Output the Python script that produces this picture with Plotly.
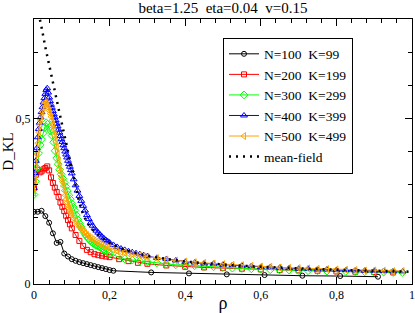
import plotly.graph_objects as go

# ---------------- data ----------------
rho_fine = [0, 0.0025, 0.005, 0.0075, 0.01, 0.0125, 0.015, 0.0175, 0.02, 0.0225,
            0.025, 0.0275, 0.03, 0.0325, 0.035, 0.0375, 0.04, 0.0425, 0.045, 0.0475,
            0.05, 0.0525, 0.055, 0.0575, 0.06, 0.0625, 0.065, 0.0675, 0.07, 0.0725,
            0.075, 0.0775, 0.08, 0.0825, 0.085, 0.0875, 0.09, 0.0925, 0.095, 0.0975,
            0.1, 0.105, 0.11, 0.115, 0.12, 0.125, 0.13, 0.135, 0.14, 0.145,
            0.15, 0.155, 0.16, 0.165, 0.17, 0.175, 0.18, 0.185, 0.19, 0.195,
            0.2, 0.21, 0.22, 0.23, 0.24, 0.25, 0.26, 0.27, 0.28, 0.29,
            0.3, 0.325, 0.35, 0.375, 0.4, 0.425, 0.45, 0.475, 0.5, 0.525,
            0.55, 0.575, 0.6, 0.625, 0.65, 0.675, 0.7, 0.725, 0.75, 0.775,
            0.8, 0.825, 0.85, 0.875, 0.9, 0.925, 0.95, 0.975]

dkl_N400 = [0.29, 0.335, 0.372, 0.41, 0.443, 0.468, 0.487, 0.503, 0.519, 0.534,
            0.548, 0.561, 0.574, 0.586, 0.591, 0.578, 0.563, 0.552, 0.541, 0.532,
            0.522, 0.512, 0.503, 0.494, 0.484, 0.476, 0.466, 0.457, 0.447, 0.437,
            0.429, 0.419, 0.41, 0.4, 0.391, 0.382, 0.372, 0.362, 0.354, 0.344,
            0.334, 0.316, 0.298, 0.282, 0.266, 0.251, 0.236, 0.222, 0.208, 0.196,
            0.185, 0.176, 0.168, 0.161, 0.155, 0.149, 0.143, 0.138, 0.133, 0.129,
            0.125, 0.118, 0.112, 0.107, 0.103, 0.099, 0.096, 0.093, 0.09, 0.087,
            0.084, 0.079, 0.075, 0.071, 0.067, 0.065, 0.062, 0.061, 0.058, 0.057,
            0.055, 0.054, 0.051, 0.051, 0.049, 0.048, 0.046, 0.046, 0.044, 0.044,
            0.042, 0.042, 0.041, 0.04, 0.04, 0.039, 0.038, 0.038]

dkl_N500 = [0.275, 0.315, 0.355, 0.392, 0.425, 0.458, 0.478, 0.495, 0.508, 0.52,
            0.532, 0.542, 0.549, 0.546, 0.54, 0.532, 0.524, 0.515, 0.505, 0.494,
            0.482, 0.466, 0.448, 0.43, 0.412, 0.393, 0.373, 0.355, 0.34, 0.324,
            0.31, 0.296, 0.282, 0.268, 0.256, 0.246, 0.237, 0.229, 0.222, 0.215,
            0.209, 0.198, 0.189, 0.18, 0.172, 0.165, 0.159, 0.153, 0.148, 0.143,
            0.139, 0.135, 0.131, 0.127, 0.124, 0.121, 0.118, 0.115, 0.113, 0.11,
            0.108, 0.104, 0.1, 0.097, 0.095, 0.092, 0.09, 0.088, 0.086, 0.084,
            0.082, 0.078, 0.074, 0.071, 0.068, 0.066, 0.064, 0.062, 0.06, 0.058,
            0.057, 0.055, 0.053, 0.052, 0.05, 0.049, 0.048, 0.047, 0.046, 0.045,
            0.044, 0.043, 0.042, 0.041, 0.041, 0.04, 0.039, 0.039]

rho_N300 = [0, 0.004, 0.008, 0.012, 0.016, 0.02, 0.024, 0.028, 0.032, 0.036,
            0.04, 0.044, 0.048, 0.052, 0.056, 0.06, 0.064, 0.068, 0.072, 0.076,
            0.08, 0.084, 0.088, 0.092, 0.096, 0.1, 0.104, 0.108, 0.112, 0.116,
            0.12, 0.124, 0.128, 0.132, 0.136, 0.14, 0.144, 0.148, 0.152, 0.156,
            0.16, 0.164, 0.168, 0.172, 0.176, 0.18, 0.184, 0.188, 0.192, 0.196,
            0.2, 0.22, 0.24, 0.26, 0.28, 0.3, 0.325, 0.35, 0.375, 0.4,
            0.425, 0.45, 0.475, 0.5, 0.525, 0.55, 0.575, 0.6, 0.625, 0.65,
            0.675, 0.7, 0.725, 0.75, 0.775, 0.8, 0.825, 0.85, 0.875, 0.9,
            0.925, 0.95, 0.975]
dkl_N300 = [0.27, 0.31, 0.35, 0.395, 0.42, 0.437, 0.455, 0.472, 0.487, 0.482,
            0.472, 0.462, 0.448, 0.428, 0.402, 0.38, 0.362, 0.345, 0.331, 0.318,
            0.306, 0.294, 0.281, 0.268, 0.256, 0.243, 0.232, 0.222, 0.208, 0.194,
            0.183, 0.173, 0.164, 0.156, 0.149, 0.143, 0.137, 0.132, 0.127, 0.123,
            0.12, 0.117, 0.115, 0.113, 0.11, 0.107, 0.104, 0.101, 0.098, 0.095,
            0.093, 0.083, 0.076, 0.072, 0.069, 0.067, 0.064, 0.06, 0.058, 0.057,
            0.055, 0.053, 0.052, 0.05, 0.048, 0.047, 0.046, 0.045, 0.043, 0.043,
            0.042, 0.041, 0.04, 0.04, 0.039, 0.038, 0.038, 0.037, 0.037, 0.036,
            0.036, 0.035, 0.035]

rho_N200 = [0, 0.005, 0.01, 0.015, 0.02, 0.025, 0.03, 0.035, 0.04, 0.045,
            0.05, 0.055, 0.06, 0.065, 0.07, 0.075, 0.08, 0.085, 0.09, 0.095,
            0.1, 0.11, 0.12, 0.13, 0.14, 0.15, 0.16, 0.17, 0.18, 0.19,
            0.2, 0.225, 0.25, 0.275, 0.3, 0.35, 0.4, 0.45, 0.5, 0.55,
            0.6, 0.65, 0.7, 0.75, 0.8, 0.85, 0.9, 0.95]
dkl_N200 = [0.29, 0.33, 0.345, 0.337, 0.34, 0.346, 0.35, 0.355, 0.343, 0.322,
            0.305, 0.291, 0.278, 0.263, 0.246, 0.233, 0.22, 0.206, 0.193, 0.18,
            0.168, 0.148, 0.13, 0.115, 0.103, 0.096, 0.09, 0.087, 0.085, 0.083,
            0.081, 0.075, 0.069, 0.064, 0.061, 0.056, 0.052, 0.05, 0.048, 0.046,
            0.044, 0.042, 0.041, 0.04, 0.038, 0.037, 0.036, 0.035]

rho_N100 = [0, 0.01, 0.02, 0.03, 0.04, 0.05, 0.06, 0.07, 0.08, 0.09,
            0.1, 0.11, 0.12, 0.13, 0.14, 0.15, 0.16, 0.17, 0.18, 0.19,
            0.2, 0.21, 0.31, 0.41, 0.51, 0.61, 0.71, 0.81, 0.91]
dkl_N100 = [0.218, 0.218, 0.221, 0.205, 0.185, 0.153, 0.124, 0.127, 0.092, 0.083,
            0.075, 0.07, 0.066, 0.063, 0.06, 0.057, 0.054, 0.051, 0.048, 0.045,
            0.042, 0.04, 0.035, 0.032, 0.029, 0.027, 0.025, 0.024, 0.022]

rho_mf = [0, 0.01, 0.02, 0.03, 0.04, 0.05, 0.06, 0.07, 0.08, 0.09,
          0.1, 0.11, 0.12, 0.13, 0.14, 0.15, 0.16, 0.17, 0.18, 0.19,
          0.2, 0.22, 0.24, 0.26, 0.28, 0.3, 0.33, 0.36, 0.4, 0.45,
          0.5, 0.55, 0.6, 0.65, 0.7, 0.75, 0.8, 0.85, 0.9, 0.95, 1.0]
dkl_mf = [0.88, 0.83, 0.775, 0.715, 0.66, 0.605, 0.553, 0.503, 0.452, 0.4,
          0.345, 0.29, 0.245, 0.21, 0.186, 0.17, 0.158, 0.148, 0.139, 0.131,
          0.124, 0.112, 0.103, 0.096, 0.09, 0.085, 0.079, 0.074, 0.068, 0.063,
          0.058, 0.055, 0.052, 0.049, 0.047, 0.045, 0.043, 0.041, 0.04, 0.038, 0.037]

names = ["N=100\u00a0\u00a0K=99", "N=200\u00a0\u00a0K=199", "N=300\u00a0\u00a0K=299",
         "N=400\u00a0\u00a0K=399", "N=500\u00a0\u00a0K=499", "mean-field"]
title_text = "beta=1.25\u00a0\u00a0eta=0.04\u00a0\u00a0v=0.15"
x_tickvals = [0, 0.2, 0.4, 0.6, 0.8, 1]
x_ticktext = ["0", "0,2", "0,4", "0,6", "0,8", "1"]
y_tickvals = [0, 0.5]
y_ticktext = ["0", "0,5"]

# ---------------- figure ----------------
FONT = "Times New Roman, Liberation Serif, serif"
fig = go.Figure()

series = [
    (rho_N100, dkl_N100, names[0], "black", "circle-open", 5),
    (rho_N200, dkl_N200, names[1], "#ff0000", "square-open", 5),
    (rho_N300, dkl_N300, names[2], "#00ff00", "diamond-open", 6),
    (rho_fine, dkl_N400, names[3], "#0000ff", "triangle-up-open", 6),
    (rho_fine, dkl_N500, names[4], "#ffa500", "triangle-left-open", 6),
]
for x, y, nm, col, sym, sz in series:
    fig.add_trace(go.Scatter(
        x=x, y=y, name=nm, mode="lines+markers",
        line=dict(color=col, width=1),
        marker=dict(symbol=sym, size=sz, color=col, line=dict(width=1, color=col)),
    ))

fig.add_trace(go.Scatter(
    x=rho_mf, y=dkl_mf, name=names[5], mode="lines",
    line=dict(color="black", width=2.5, dash="2px,5px"),
))

axis_common = dict(
    showline=True, linecolor="black", linewidth=1, mirror="allticks",
    ticks="inside", ticklen=7, tickwidth=1, tickcolor="black",
    showgrid=False, zeroline=False, automargin=False,
    tickfont=dict(family=FONT, size=12, color="black"),
)

fig.update_layout(
    width=415, height=313,
    margin=dict(l=34, r=3, t=19, b=29),
    paper_bgcolor="white", plot_bgcolor="white",
    separators=",.",
    font=dict(family=FONT, color="black"),
    title=dict(text=title_text, x=0.5, xref="paper", y=1 - 8 / 313, yref="container",
               yanchor="middle", font=dict(family=FONT, size=15, color="black")),
    xaxis=dict(range=[0, 1], tickvals=x_tickvals, ticktext=x_ticktext,
               minor=dict(dtick=0.04, ticks="inside", ticklen=4, tickcolor="black"),
               title=dict(text="ρ", font=dict(family=FONT, size=18), standoff=0),
               **axis_common),
    yaxis=dict(range=[0, 0.8], tickvals=y_tickvals, ticktext=y_ticktext,
               minor=dict(dtick=0.1, ticks="inside", ticklen=4, tickcolor="black"),
               title=dict(text="D_KL", font=dict(family=FONT, size=15), standoff=4),
               **axis_common),
    legend=dict(x=0.5, y=0.93, xanchor="left", yanchor="top",
                bgcolor="white", bordercolor="black", borderwidth=1,
                font=dict(family=FONT, size=13.5, color="black"),
                itemwidth=30, tracegroupgap=0),
    showlegend=True,
)

fig.write_html("out.html", post_script="document.body.style.margin='0';",
               config={"displayModeBar": False})
